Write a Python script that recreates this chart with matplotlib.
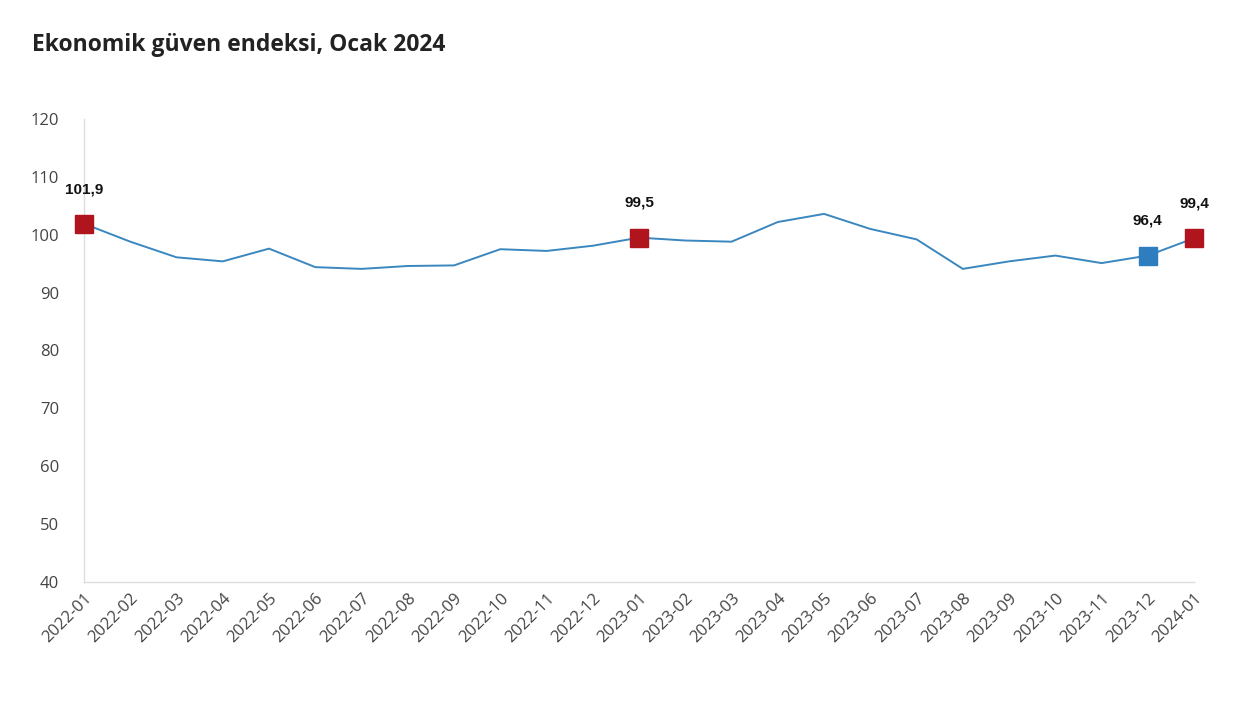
import matplotlib.pyplot as plt

# Ekonomik güven endeksi verisi
months = ['2022-01', '2022-02', '2022-03', '2022-04', '2022-05', '2022-06', '2022-07',
          '2022-08', '2022-09', '2022-10', '2022-11', '2022-12', '2023-01', '2023-02',
          '2023-03', '2023-04', '2023-05', '2023-06', '2023-07', '2023-08', '2023-09',
          '2023-10', '2023-11', '2023-12', '2024-01']
values = [101.9, 98.8, 96.1, 95.4, 97.6, 94.4, 94.1, 94.6, 94.7, 97.5, 97.2, 98.1,
          99.5, 99.0, 98.8, 102.2, 103.6, 101.0, 99.2, 94.1, 95.4, 96.4, 95.1, 96.4, 99.4]

# highlighted points: index -> colour
highlight = {0: '#B0141C', 12: '#B0141C', 23: '#2E7DBE', 24: '#B0141C'}

plt.rcParams['font.family'] = ['Open Sans', 'DejaVu Sans']

fig = plt.figure(figsize=(12.58, 7.15), dpi=100)
ax = fig.add_axes([0.0668, 0.186, 0.8824, 0.6476])

x = list(range(len(months)))
ax.plot(x, values, color='#3A87C0', linewidth=1.4, zorder=2)

for i, c in highlight.items():
    ax.plot(x[i], values[i], marker='s', markersize=13, color=c, linestyle='none',
            zorder=3, clip_on=False)
    ax.annotate(f'{values[i]:.1f}'.replace('.', ','), (x[i], values[i]),
                xytext=(0, 25), textcoords='offset points', ha='center', va='center',
                fontsize=11, fontweight='bold', family='Liberation Sans', color='#111111')

ax.set_xlim(0, len(months) - 1)
ax.set_ylim(40, 120)
ax.set_yticks(range(40, 121, 10))
ax.set_xticks(x)
ax.set_xticklabels(months, rotation=45, ha='right', rotation_mode='anchor')
ax.tick_params(axis='both', length=0, labelsize=12, colors='#444444')
ax.tick_params(axis='y', pad=18)
ax.tick_params(axis='x', pad=6)

for s in ['top', 'right']:
    ax.spines[s].set_visible(False)
for s in ['left', 'bottom']:
    ax.spines[s].set_color('#dddddd')
    ax.spines[s].set_linewidth(1)

fig.text(0.0255, 0.937, 'Ekonomik güven endeksi, Ocak 2024', fontsize=16.5,
         fontweight='bold', color='#222222', va='center', ha='left')

fig.savefig('out.png', dpi=100)
